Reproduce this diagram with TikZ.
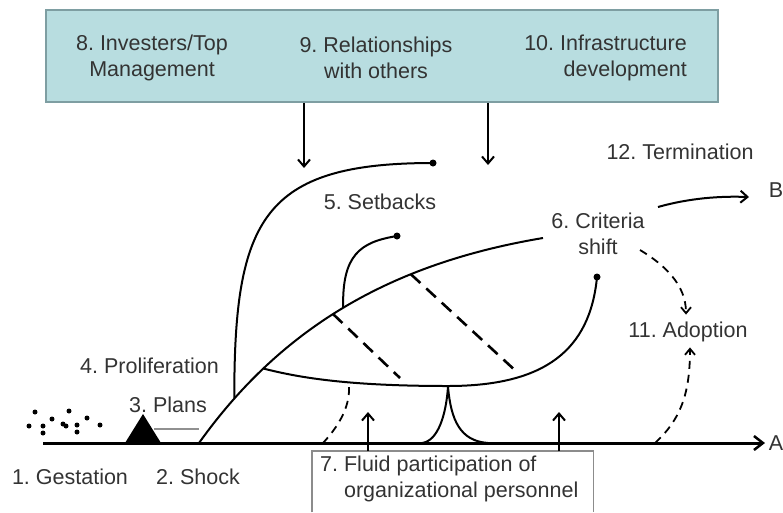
\documentclass[tikz,border=0pt]{standalone}
\usepackage{fontspec}
\setmainfont{Liberation Sans}
\usetikzlibrary{arrows.meta}
\definecolor{txt}{HTML}{333333}
\definecolor{boxfill}{HTML}{B8DDE0}
\definecolor{boxdraw}{HTML}{7E9EA2}
\definecolor{graybox}{HTML}{8C8C8C}
\definecolor{plangray}{HTML}{909090}
\frenchspacing
\begin{document}
\begin{tikzpicture}[x=1pt,y=-1pt,
  lbl/.style={font=\fontsize{21.5}{25.5}\selectfont\frenchspacing, text=txt, inner sep=0pt},
  curve/.style={line width=2pt, black},
  axisline/.style={line width=3pt, black, -{Straight Barb[length=9pt,width=14pt,line width=2.5pt]}},
  arr/.style={line width=2pt, black, -{Straight Barb[length=7pt,width=12pt,line width=2pt]}},
  bigdash/.style={line width=2.6pt, black, dash pattern=on 13pt off 8pt},
  smalldash/.style={line width=1.8pt, black, dash pattern=on 8pt off 6pt},
  dasharr/.style={smalldash, -{Straight Barb[length=6pt,width=10pt,line width=1.8pt,sep]}},
  enddot/.style={circle, fill=black, inner sep=0pt, minimum size=7pt},
  seed/.style={circle, fill=black, inner sep=0pt, minimum size=5pt},
  topbox/.style={rectangle, fill=boxfill, draw=boxdraw, line width=1.5pt, inner sep=0pt},
]
\useasboundingbox (0,0) rectangle (783,512);

% top box
\node[topbox, minimum width=672, minimum height=92] (tb) at (382,56) {};
\node[lbl, align=center] (t8) at (152,58) {8. Investers/Top\\Management};
\node[lbl, align=center] (t9) at (376,58) {9. Relationships\\with others};
\node[lbl, align=right, anchor=east] (t10) at (687,58) {10. Infrastructure\\development};

\coordinate (da1) at (304,168);
\coordinate (da2) at (488,165);
\draw[arr] (tb.south -| da1) -- (da1);
\draw[arr] (tb.south -| da2) -- (da2);

% labels
\node[lbl] (t12) at (680,152) {12. Termination};
\node[lbl] (tB) at (776,190) {B};
\node[lbl, align=center] (t6) at (598,234) {6. Criteria\\shift};
\node[lbl] (t5) at (380,202) {5. Setbacks};
\node[lbl] (t11) at (688,332) {11. Adoption};
\node[lbl, anchor=east] (t4) at (219,366) {4. Proliferation};
\node[lbl] (t3) at (168,405) {3. Plans};
\node[lbl] (t1) at (70,477) {1. Gestation};
\node[lbl] (t2) at (198,477) {2. Shock};
\node[lbl] (tA) at (776,443) {A};

% axis
\coordinate (ax0) at (43,443);
\coordinate (ax1) at (765,443);
\draw[axisline] (ax0) -- (ax1);

% gestation seeds
\foreach \p [count=\i] in {(35,412),(69,411),(52,419),(29,426),(43,426),(43,433),(63,424),(66,426),(77,425),(77,432),(87,418),(100,425)}
  \node[seed] (s\i) at \p {};

% plans triangle and grey line
\coordinate (tr1) at (125,443);
\coordinate (tr2) at (143,414);
\coordinate (tr3) at (161,443);
\fill[black] (tr1) -- (tr2) -- (tr3) -- cycle;
\coordinate (pl1) at (154,429);
\coordinate (pl2) at (199,429);
\draw[plangray, line width=1.5pt] (pl1) -- (pl2);

% main proliferation curve
\coordinate (m0) at (199,443);
\coordinate (m1) at (543,238);
\draw[curve] (m0) .. controls (286,321) and (400,262) .. (m1)
  coordinate[pos=0.13] (P1)
  coordinate[pos=0.23] (J)
  coordinate[pos=0.45] (Q1)
  coordinate[pos=0.48] (P2)
  coordinate[pos=0.67] (Q2);

% big setback arc
\node[enddot] (d1) at (433,163) {};
\draw[curve] (P1) .. controls (234,219) and (263,163) .. (d1.center);

% small setback
\node[enddot] (d2) at (397,236) {};
\draw[curve] (P2) .. controls (342,255) and (360,242) .. (d2.center);

% lower curve
\node[enddot] (d3) at (597,277) {};
\coordinate (low) at (448,386);
\draw[curve] (J) .. controls (300,378) and (350,386) .. (low)
  .. controls (545,386) and (590,350) .. (d3.center);

% dashed cross lines
\coordinate (q1e) at (400,378);
\coordinate (q2e) at (518,373);
\draw[bigdash] (Q1) -- (q1e);
\draw[bigdash] (Q2) -- (q2e);

% dashed curve to axis
\coordinate (lc1) at (349,387);
\coordinate (lc2) at (323,443);
\draw[smalldash] (lc1) .. controls (350,410) and (335,430) .. (lc2);

% peak
\coordinate (pk0) at (422,443);
\coordinate (pk1) at (448,387);
\coordinate (pk2) at (488,443);
\draw[curve] (pk0) .. controls (438,441) and (446,415) .. (pk1)
  .. controls (451,420) and (460,441) .. (pk2);

% fluid participation box
\node[minimum width=281, minimum height=61, anchor=north west, inner sep=0pt] (b7) at (312,451) {};
\draw[graybox, line width=1.3pt] (b7.south west) -- (b7.north west) -- (b7.north east) -- (b7.south east);
\node[lbl, align=left, anchor=north west] (t7) at (320,456) {7. Fluid participation of\\\hphantom{7.\ }organizational personnel};

\coordinate (ua1) at (368,412);
\coordinate (ua2) at (559,412);
\draw[arr] (b7.north -| ua1) -- (ua1);
\draw[arr] (b7.north -| ua2) -- (ua2);

% termination arrow to B
\coordinate (bs) at (658,207);
\coordinate (be) at (749,197);
\draw[arr] (bs) .. controls (690,198) and (720,196) .. (be);

% dashed arrows to adoption
\coordinate (cs) at (640,250);
\coordinate (ce) at (686,316);
\draw[dasharr] (cs) .. controls (665,265) and (686,285) .. (ce);
\coordinate (as) at (655,443);
\coordinate (ae) at (690,346);
\draw[dasharr] (as) .. controls (680,420) and (690,395) .. (ae);

\end{tikzpicture}
\end{document}
